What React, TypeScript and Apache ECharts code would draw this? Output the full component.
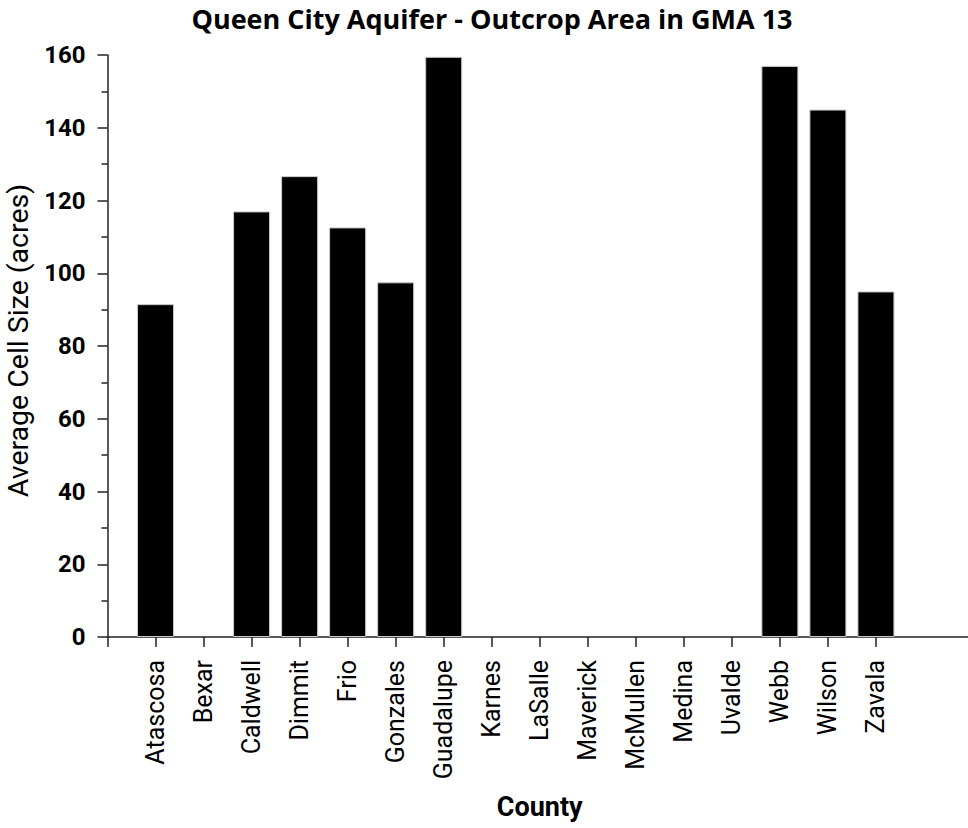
import React, { useEffect, useRef } from "react";
import * as echarts from "echarts";

const counties = [
  "",
  "Atascosa",
  "Bexar",
  "Caldwell",
  "Dimmit",
  "Frio",
  "Gonzales",
  "Guadalupe",
  "Karnes",
  "LaSalle",
  "Maverick",
  "McMullen",
  "Medina",
  "Uvalde",
  "Webb",
  "Wilson",
  "Zavala",
  "",
  "",
];

const avgCellSize = [
  null, 91.5, 0, 117, 126.7, 112.6, 97.5, 159.5, 0, 0, 0, 0, 0, 0, 157, 145, 95, null, null,
];

const yTicks = { min: 0, max: 160, interval: 20 };

const titleText = "Queen City Aquifer - Outcrop Area in GMA 13";
const yName = "Average Cell Size (acres)";
const xName = "County";

export default function App() {
  const ref = useRef<HTMLDivElement>(null);
  useEffect(() => {
    if (!ref.current) return;
    const chart = echarts.init(ref.current, undefined, { renderer: "svg" });
    const font = "Roboto, 'Noto Sans', sans-serif";
    const titleFont = "'Open Sans', 'Noto Sans', sans-serif";
    const axisColor = "#222";
    const barData = avgCellSize.map((v) =>
      v === 0 ? { value: v, itemStyle: { borderWidth: 0 } } : v
    );
    chart.setOption({
      animation: false,
      backgroundColor: "#fff",
      title: {
        text: titleText,
        left: 487,
        top: 0,
        textAlign: "center",
        textStyle: { fontFamily: titleFont, fontSize: 27, fontWeight: "bold", color: "#000" },
      },
      grid: {
        left: 107.5,
        top: 55,
        bottom: 191,
        right: -4,
        containLabel: false,
        outerBoundsMode: "none",
      },
      xAxis: {
        type: "category",
        data: counties,
        boundaryGap: false,
        name: xName,
        nameLocation: "middle",
        nameGap: 156,
        nameTextStyle: { fontFamily: font, fontSize: 27, fontWeight: "bold", color: "#000" },
        axisLine: { show: true, lineStyle: { color: axisColor, width: 1.5 } },
        axisTick: {
          show: true,
          length: 10,
          interval: (i: number) => i <= 16,
          lineStyle: { color: axisColor, width: 1.5 },
        },
        axisLabel: {
          interval: 0,
          rotate: 90,
          margin: 23,
          fontFamily: font,
          fontSize: 25,
          color: "#000",
        },
        splitLine: { show: false },
      },
      yAxis: {
        type: "value",
        min: yTicks.min,
        max: yTicks.max,
        interval: yTicks.interval,
        name: yName,
        nameLocation: "middle",
        nameRotate: 90,
        nameGap: 72,
        nameTextStyle: { fontFamily: font, fontSize: 28.5, color: "#000", padding: [0, 0, 0, 11] },
        axisLine: { show: true, lineStyle: { color: axisColor, width: 1.5 } },
        axisTick: { show: true, length: 10, lineStyle: { color: axisColor, width: 1.5 } },
        minorTick: { show: true, splitNumber: 2, length: 6, lineStyle: { color: axisColor, width: 1.5 } },
        axisLabel: {
          margin: 22,
          fontFamily: font,
          fontSize: 24,
          fontWeight: "bold",
          color: "#000",
        },
        splitLine: { show: false },
      },
      series: [
        {
          type: "bar",
          data: barData,
          barWidth: 37,
          itemStyle: { color: "#000", borderColor: "#c8c8c8", borderWidth: 1 },
        },
      ],
    });
    return () => chart.dispose();
  }, []);
  return (
    <div
      ref={ref}
      style={{ position: "absolute", left: 0, top: 0, width: 968, height: 828 }}
    />
  );
}
